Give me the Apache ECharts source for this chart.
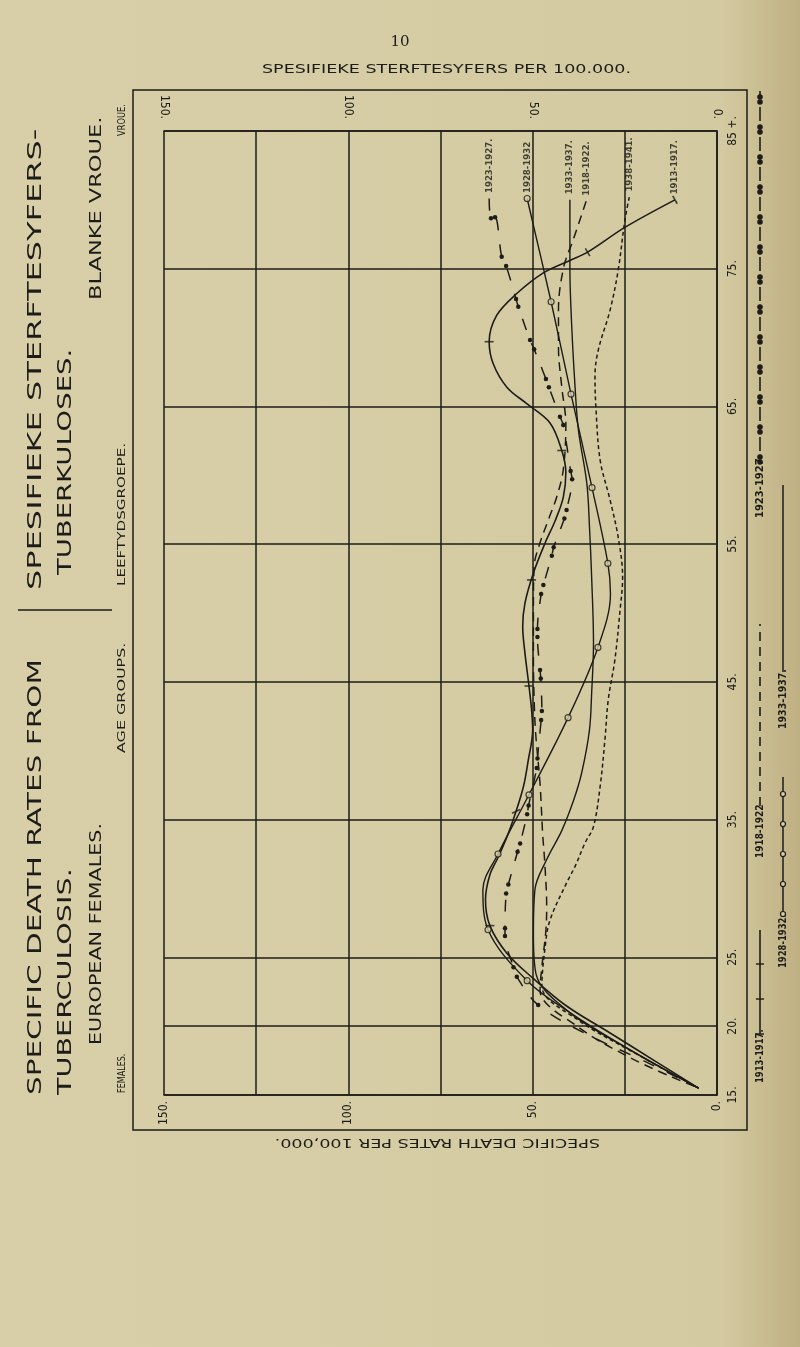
<!DOCTYPE html>
<html><head><meta charset="utf-8">
<script src="https://cdn.jsdelivr.net/npm/echarts@6/dist/echarts.min.js"></script>
<style>html,body{margin:0;padding:0;background:#d6cda5}#c{width:800px;height:1347px}</style>
</head><body><div id="c"></div>
<script>
// ---------------- DATA ----------------
const rateTicks = [0, 25, 50, 75, 100, 125, 150];
const rateLabelValues = [0, 50, 100, 150];
const ageTicks = [85, 75, 65, 55, 45, 35, 25, 20, 15];
const ageTickLabels = ['85 +.', '75.', '65.', '55.', '45.', '35.', '25.', '20.', '15.'];
const periods = ['1913-1917.', '1918-1922.', '1923-1927.', '1928-1932', '1933-1937.', '1938-1941.'];
const legendPeriods = ['1913-1917.', '1918-1922', '1923-1927', '1928-1932.', '1933-1937.'];

// [death rate per 100,000, age]
const rates1913 = [[11.4,80.0],[25.0,78.0],[35.1,76.2],[39.9,75.6],[47.1,74.7],[54.3,73.2],[59.8,71.6],[61.8,69.7],[60.7,68.1],[57.0,66.4],[51.6,65.2],[45.3,63.8],[42.1,61.8],[41.0,60.2],[41.7,58.4],[43.9,56.7],[46.6,55.1],[49.8,52.9],[52.1,50.7],[52.7,49.0],[52.1,47.1],[51.0,44.7],[50.3,43.0],[50.0,41.5],[51.2,39.3],[52.5,37.4],[54.5,35.6],[56.6,34.0],[59.3,32.3],[61.6,31.0],[62.8,29.2],[61.6,27.3],[57.0,25.3],[50.0,23.5],[41.0,21.5],[29.0,19.5],[17.0,17.5],[5.0,15.5]];
const ticks1913 = [[11.4,80.0],[35.1,76.2],[61.8,69.7],[42.1,61.8],[50.3,52.4],[51.0,44.7],[54.5,35.6],[61.6,27.3]];
const rates1918 = [[35.5,79.9],[39.0,77.1],[41.6,75.1],[43.0,72.0],[43.0,69.3],[42.1,66.4],[41.0,63.7],[41.7,60.4],[43.5,58.4],[45.7,56.8],[48.0,55.1],[49.6,53.4],[49.8,50.2],[49.8,46.6],[49.6,43.7],[49.2,41.3],[48.0,37.6],[47.3,34.0],[46.7,31.8],[46.2,28.7],[46.4,27.0],[47.5,24.3],[48.0,22.6],[38.0,20.0],[22.0,17.5],[5.0,15.5]];
const rates1923 = [[61.8,80.1],[61.3,78.66],[60.2,78.73],[58.4,75.87],[57.2,75.2],[54.5,72.8],[53.9,72.24],[50.7,69.82],[49.6,69.15],[46.4,66.99],[45.6,66.39],[42.6,64.25],[41.7,63.65],[39.7,60.31],[39.3,59.71],[40.8,57.48],[41.4,56.87],[44.3,54.77],[44.8,54.16],[47.1,52.03],[47.7,51.38],[48.7,48.83],[48.7,48.25],[48.0,45.86],[47.8,45.25],[47.5,42.88],[47.7,42.23],[48.7,39.44],[48.9,38.74],[51.1,36.03],[51.5,35.38],[53.4,33.27],[54.1,32.66],[56.6,30.29],[57.2,29.64],[57.5,27.1],[57.5,26.54],[55.2,24.27],[54.3,23.58],[48.5,21.53],[36.0,19.5],[20.0,17.5],[5.0,15.5]];
const rates1928 = [[51.5,80.1],[45.0,72.6],[39.6,65.9],[33.9,59.1],[29.6,53.6],[28.9,51.4],[32.3,47.5],[40.4,42.4],[51.0,36.8],[59.4,32.5],[63.5,29.9],[62.1,27.0],[51.5,23.3],[40.0,21.0],[25.0,18.5],[5.0,15.5]];
const circles1928 = [[51.5,80.1],[45.0,72.6],[39.6,65.9],[33.9,59.1],[29.6,53.6],[32.3,47.5],[40.4,42.4],[51.0,36.8],[59.4,32.5],[62.1,27.0],[51.5,23.3]];
const rates1933 = [[39.9,80.0],[39.9,75.0],[39.4,70.8],[38.5,66.4],[37.6,63.3],[35.3,59.4],[34.6,56.3],[34.0,52.6],[33.5,47.8],[34.0,44.2],[34.6,41.5],[36.7,38.4],[38.9,36.4],[42.1,34.2],[46.2,32.1],[49.4,29.9],[49.8,26.7],[49.1,23.8],[40.0,21.0],[25.0,18.5],[5.0,15.5]];
const rates1938 = [[23.8,80.2],[25.0,78.5],[26.8,74.9],[29.0,72.0],[32.2,69.1],[33.1,67.2],[32.8,64.7],[31.7,61.1],[29.0,58.2],[26.8,55.5],[25.6,52.6],[26.3,50.2],[27.7,46.6],[29.5,43.7],[30.4,40.8],[31.7,37.4],[33.5,34.5],[35.8,33.3],[38.5,31.6],[40.8,30.4],[45.3,27.7],[46.6,25.8],[47.5,22.9],[38.0,20.5],[22.0,18.0],[5.0,15.5]];
const allRates = [rates1913, rates1918, rates1923, rates1928, rates1933, rates1938];

// ---------------- STYLE ----------------
const ink = '#1d1c18';
const paper = '#d6cda5';
const letterFont = "'Liberation Sans Narrow', 'DejaVu Sans Condensed', sans-serif";
const tickAngles1913 = [120, 120, 0, 0, 0, 0, 25, 0];

const mctx = document.createElement('canvas').getContext('2d');
function tw(text, size, weight, family) { mctx.font = weight + ' ' + size + 'px ' + family; return mctx.measureText(text).width; }
function vtext(text, x, y0, y1, size, weight) {
  weight = weight || 'normal';
  const s = (y0 - y1) / tw(text, size, weight, "Liberation Sans Narrow");
  return {type:'text', x:x, y:y0, rotation:Math.PI/2, scaleX:s, silent:true, z:10,
    style:{text:text, fontSize:size, fontFamily:letterFont, fontWeight:weight, fill:ink, align:'left', verticalAlign:'middle'}};
}
function htext(text, x0, x1, y, size, rot) {
  const s = Math.abs(x1 - x0) / tw(text, size, 'normal', "Liberation Sans Narrow");
  return {type:'text', x:x0, y:y, rotation:rot || 0, scaleX:s, silent:true, z:10,
    style:{text:text, fontSize:size, fontFamily:letterFont, fill:ink, align:'left', verticalAlign:'middle'}};
}
function seg(x1, y1, x2, y2, w, dash) {
  return {type:'line', silent:true, z:10, shape:{x1:x1,y1:y1,x2:x2,y2:y2}, style:{stroke:ink, lineWidth:w||1.5, lineDash:dash||null}};
}
function dot(x, y, r, fill) {
  return {type:'circle', silent:true, z:11, shape:{cx:x,cy:y,r:r}, style:{fill:fill||ink, stroke:ink, lineWidth:1.2}};
}

// legend (rotated, right margin)
const g = [];
const ax = 760, bx = 783;
g.push(vtext(legendPeriods[0], ax, 1083, 1040, 10, 'bold'));
g.push(seg(ax, 1034, ax, 930, 1.6));
for (let y = 1034; y >= 930; y -= 35) g.push(seg(ax - 4, y, ax + 4, y, 1.4));
g.push(vtext(legendPeriods[1], ax, 858, 815, 10, 'bold'));
g.push(seg(ax, 806, ax, 624, 1.6, [9, 6]));
g.push(vtext(legendPeriods[2], ax, 518, 470, 10, 'bold'));
for (let y = 462; y > 100; y -= 30) { g.push(dot(ax, y, 2.2)); g.push(dot(ax, y - 5, 2.2)); g.push(seg(ax, y - 11, ax, Math.max(y - 25, 97), 1.6)); }
g.push(vtext(legendPeriods[3], bx, 968, 925, 10, 'bold'));
g.push(seg(bx, 916, bx, 777, 1.5));
for (let y = 914; y >= 780; y -= 30) g.push(dot(bx, y, 2.5, paper));
g.push(vtext(legendPeriods[4], bx, 729, 681, 10, 'bold'));
g.push(seg(bx, 672, bx, 485, 1.5));

// frame and titles
g.push({type:'rect', silent:true, z:1, shape:{x:133, y:90, width:614, height:1040}, style:{fill:null, stroke:ink, lineWidth:1.5}});
g.push({type:'text', x:400, y:42, silent:true, style:{text:'10', fontSize:15, fontFamily:"'DejaVu Serif', serif", fill:ink, align:'center', verticalAlign:'middle'}});
g.push(htext('SPESIFIEKE STERFTESYFERS PER 100.000.', 262, 640, 70, 13));
g.push(htext('SPECIFIC DEATH RATES PER 100,000.', 600, 270, 1142, 13, Math.PI));
g.push(vtext('SPECIFIC DEATH RATES FROM', 36, 1095, 630, 19));
g.push(vtext('SPESIFIEKE STERFTESYFERS-', 36, 590, 95, 19));
g.push(seg(18, 610, 112, 610, 1.5));
g.push(vtext('TUBERCULOSIS.', 66, 1095, 850, 19));
g.push(vtext('TUBERKULOSES.', 66, 575, 330, 19));
g.push(vtext('EUROPEAN FEMALES.', 97, 1045, 806, 16));
g.push(vtext('BLANKE VROUE.', 97, 300, 100, 16));
g.push(vtext('FEMALES.', 122, 1093, 1050, 10));
g.push(vtext('AGE GROUPS.', 122, 753, 638, 10));
g.push(vtext('LEEFTYDSGROEPE.', 122, 586, 432, 10));
g.push(vtext('VROUE.', 122, 136, 102, 10));

// ---------------- CHART ----------------
const lineBase = {type:'line', smooth:0.35, animation:false, silent:true, showAllSymbol:true, z:5};
const xLabelFmt = v => rateLabelValues.includes(v) ? v + '.' : '';
const xAxisBase = {type:'value', min:0, max:150, interval:25, inverse:true,
  axisLine:{show:true, lineStyle:{color:ink, width:1.6}}, axisTick:{show:false},
  splitLine:{show:true, lineStyle:{color:ink, width:1.5}},
  axisLabel:{rotate:90, formatter:xLabelFmt, color:ink, fontSize:12, fontFamily:"'DejaVu Sans Condensed', sans-serif"}};

// series name labels at the top end of each curve
const labelSeries = allRates.map((arr, i) => ({
  type:'scatter', name:periods[i] + ' label', silent:true, animation:false, z:8,
  symbol:'circle', symbolSize:1, itemStyle:{color:'rgba(0,0,0,0)'},
  data:[arr[0]],
  label:{show:true, formatter:periods[i], position:'top', distance:5, rotate:90, align:'left', verticalAlign:'middle',
    fontSize:9.5, fontWeight:'bold', fontFamily:"'DejaVu Sans Condensed', sans-serif", color:ink}
}));

const option = {
  backgroundColor: {type:'linear', x:0, y:0, x2:1, y2:0, colorStops:[{offset:0, color:'#d8cfa9'},{offset:0.9, color:'#d4caa1'},{offset:1, color:'#bfb083'}]},
  animation:false,
  grid:{left:164, right:83, top:131, bottom:252},
  xAxis:[
    Object.assign({}, xAxisBase, {position:'top', axisLabel:Object.assign({}, xAxisBase.axisLabel, {margin:12})}),
    Object.assign({}, xAxisBase, {position:'bottom', splitLine:{show:false}, axisLabel:Object.assign({}, xAxisBase.axisLabel, {margin:6})})
  ],
  yAxis:{type:'value', min:15, max:85, interval:5, position:'right',
    axisLine:{show:true, lineStyle:{color:ink, width:1.6}}, axisTick:{show:false}, splitLine:{show:false},
    axisLabel:{rotate:90, margin:10, color:ink, fontSize:12, fontFamily:"'DejaVu Sans Condensed', sans-serif",
      formatter: v => { const i = ageTicks.indexOf(v); return i >= 0 ? ageTickLabels[i] : ''; }}},
  graphic: g,
  series:[
    Object.assign({}, lineBase, {name:periods[0], data:rates1913, symbol:'none',
      lineStyle:{color:ink, width:1.6},
      markLine:{silent:true, symbol:['none','none'], label:{show:false}, animation:false,
        lineStyle:{type:'solid', color:ink, width:1.5}, data:ageTicks.map(a => ({yAxis:a}))}}),
    {type:'scatter', name:periods[0] + ' ticks', silent:true, animation:false, z:6, symbol:'rect', symbolSize:[9, 1.6],
      itemStyle:{color:ink}, data:ticks1913.map((p, i) => ({value:p, symbolRotate:tickAngles1913[i]}))},
    Object.assign({}, lineBase, {name:periods[1], data:rates1918, symbol:'none',
      lineStyle:{color:ink, width:1.5, type:[9, 6]}}),
    Object.assign({}, lineBase, {name:periods[2], data:rates1923.map((p, i) => (i === 0 || p[1] < 21) ? {value:p, symbol:'none'} : p),
      symbol:'circle', symbolSize:4.5, itemStyle:{color:ink}, lineStyle:{color:ink, width:1.5, type:[12, 14]}}),
    Object.assign({}, lineBase, {name:periods[3], data:rates1928, symbol:'none',
      lineStyle:{color:ink, width:1.4}}),
    {type:'scatter', name:periods[3] + ' circles', silent:true, animation:false, z:7, symbol:'circle', symbolSize:6,
      itemStyle:{color:paper, borderColor:ink, borderWidth:1.2}, data:circles1928},
    Object.assign({}, lineBase, {name:periods[4], data:rates1933, symbol:'none',
      lineStyle:{color:ink, width:1.4}}),
    Object.assign({}, lineBase, {name:periods[5], data:rates1938, symbol:'none',
      lineStyle:{color:ink, width:1.5, type:[4, 3]}})
  ].concat(labelSeries)
};
const chart = echarts.init(document.getElementById('c'), null, {renderer:'canvas'});
chart.setOption(option);
</script>
</body></html>
